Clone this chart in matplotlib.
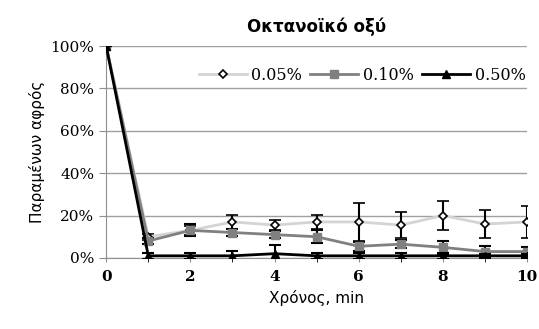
import matplotlib.pyplot as plt
from matplotlib.lines import Line2D
from matplotlib.ticker import MultipleLocator, FuncFormatter

# χρόνος σε λεπτά
t = [0, 1, 2, 3, 4, 5, 6, 7, 8, 9, 10]

# παραμένων αφρός (%) για κάθε συγκέντρωση
foam_005 = [100, 10, 13, 17, 15.5, 17, 17, 15.5, 20, 16, 17]
err_005 = [0, 1.5, 2, 3.5, 2.5, 3.3, 9, 6, 7, 6.5, 7.5]

foam_010 = [100, 8, 13, 12, 11, 10, 5.5, 6.5, 5, 3, 3]
err_010 = [0, 1.5, 2.8, 1.5, 1.5, 3, 2, 2, 3, 2.5, 2]

foam_050 = [100, 1, 1, 1, 2, 1, 1, 1, 1, 1, 1]
err_050 = [0, 1.5, 1.5, 2.5, 4, 1.5, 1.5, 1.5, 1.5, 1, 1]

labels = ['0.05%', '0.10%', '0.50%']

serif = 'DejaVu Serif'

fig = plt.figure(figsize=(5.39, 3.29), dpi=100)
ax = fig.add_axes([0.197, 0.216, 0.781, 0.644])

styles = [
    dict(color='#d4d4d4', marker='D', ms=4.5, mfc='white', mec='black', mew=1.2),
    dict(color='#808080', marker='s', ms=6, mfc='#808080', mec='#808080'),
    dict(color='black', marker='^', ms=6, mfc='black', mec='black'),
]
series = [(foam_005, err_005), (foam_010, err_010), (foam_050, err_050)]

for i, ((y, e), st) in enumerate(zip(series, styles)):
    ax.errorbar(t, y, yerr=e, lw=2, ecolor='black', elinewidth=1.5,
                capsize=4, capthick=1.5, zorder=3 + i, **st)

handles = [Line2D([], [], lw=2, **st) for st in styles]

ax.set_xlim(0, 10)
ax.set_ylim(0, 100)
ax.xaxis.set_major_locator(MultipleLocator(2))
ax.xaxis.set_minor_locator(MultipleLocator(1))
ax.yaxis.set_major_locator(MultipleLocator(20))
ax.yaxis.set_major_formatter(FuncFormatter(lambda v, p: f'{v:.0f}%'))
ax.grid(axis='y', color='#a0a0a0', lw=1)
ax.set_axisbelow(True)
for s in ['top', 'right']:
    ax.spines[s].set_visible(False)
for s in ['left', 'bottom']:
    ax.spines[s].set_color('#909090')
ax.tick_params(axis='both', colors='#909090', labelcolor='black', labelsize=11)
ax.tick_params(axis='x', which='both', direction='inout', length=6, pad=6)
ax.tick_params(axis='y', length=5)
for lbl in ax.get_xticklabels() + ax.get_yticklabels():
    lbl.set_fontfamily(serif)
for lbl in ax.get_xticklabels():
    lbl.set_fontweight('bold')

ax.set_title('Οκτανοϊκό οξύ', fontsize=12, fontweight='bold', pad=10)
ax.set_xlabel('Χρόνος, min', fontsize=11)
ax.set_ylabel('Παραμένων αφρός', fontsize=11)

ax.legend(handles, labels, loc='upper right', bbox_to_anchor=(1.03, 0.97), ncol=3,
          frameon=False, prop={'family': serif, 'size': 11.5}, handlelength=3,
          columnspacing=0.5, handletextpad=0.3)

fig.savefig('out.png', dpi=100)
